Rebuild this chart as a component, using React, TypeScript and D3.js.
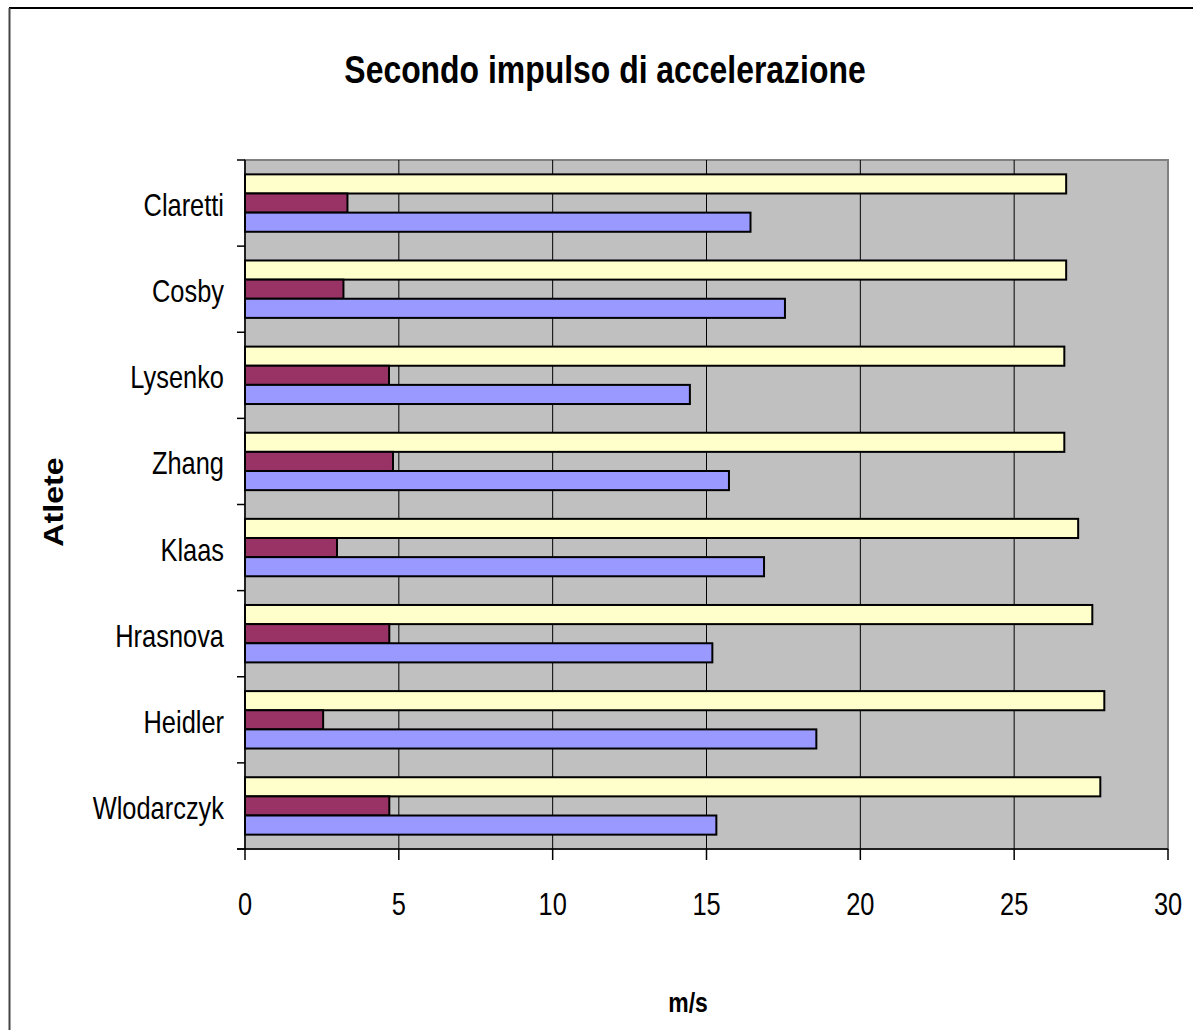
import React from "react";
import * as d3 from "d3";

const athletes = ["Claretti", "Cosby", "Lysenko", "Zhang", "Klaas", "Hrasnova", "Heidler", "Wlodarczyk"];
const seriesYellow = [26.69, 26.69, 26.63, 26.63, 27.08, 27.54, 27.93, 27.8];
const seriesPurple = [3.33, 3.2, 4.68, 4.81, 2.99, 4.69, 2.54, 4.69];
const seriesBlue = [16.43, 17.55, 14.46, 15.73, 16.87, 15.19, 18.57, 15.32];
const xTicks = [0, 5, 10, 15, 20, 25, 30];
const seriesKeys = ["yellow", "purple", "blue"];
const seriesColors = ["#FFFFCC", "#993366", "#9999FF"];
const seriesData = [seriesYellow, seriesPurple, seriesBlue];

const titleText = "Secondo impulso di accelerazione";
const xTitle = "m/s";
const yTitle = "Atlete";

function Narrow({ x, y, anchor, size, bold, sx = 0.82, children }: any) {
  return (
    <text
      transform={`translate(${x},${y}) scale(${sx},1)`}
      textAnchor={anchor}
      fontFamily="'Liberation Sans', Arial, sans-serif"
      fontWeight={bold ? "bold" : "normal"}
      fontSize={size}
    >
      {children}
    </text>
  );
}

export default function App() {
  const left = 245, right = 1168, top = 160, bottom = 849;
  const x = d3.scaleLinear().domain([0, 30]).range([left, right]);
  const y = d3.scaleBand().domain(athletes).range([top, bottom]).paddingInner(1.5 / 4.5).paddingOuter(0.75 / 4.5);
  const inner = d3.scaleBand().domain(seriesKeys).range([0, y.bandwidth()]);
  const bandStep = (bottom - top) / athletes.length;
  const sans = "'Liberation Sans', Arial, sans-serif";

  return (
    <svg width={1193} height={1030} style={{ position: "absolute", left: 0, top: 0, background: "#fff" }}>
      <line x1={9} y1={8} x2={1193} y2={8} stroke="#000" strokeWidth={2} />
      <line x1={9.5} y1={8} x2={9.5} y2={1030} stroke="#444" strokeWidth={2} />
      <Narrow x={605} y={83} anchor="middle" size={38} sx={0.84} bold>
        {titleText}
      </Narrow>
      <rect x={left} y={top} width={right - left} height={bottom - top} fill="#C0C0C0" stroke="#808080" strokeWidth={2} />
      {xTicks.slice(1, -1).map((t) => (
        <line key={"g" + t} x1={x(t)} x2={x(t)} y1={top} y2={bottom} stroke="#000" strokeWidth={1} />
      ))}
      {athletes.map((a, i) =>
        seriesData.map((s, k) => (
          <rect
            key={a + k}
            x={x(0)}
            y={(y(a) as number) + (inner(seriesKeys[k]) as number)}
            width={x(s[i]) - x(0)}
            height={inner.bandwidth()}
            fill={seriesColors[k]}
            stroke="#000"
            strokeWidth={2}
          />
        ))
      )}
      <line x1={left} x2={left} y1={top} y2={bottom} stroke="#000" strokeWidth={1.5} />
      <line x1={left - 8} x2={right} y1={bottom} y2={bottom} stroke="#000" strokeWidth={1.5} />
      {d3.range(athletes.length + 1).map((i) => (
        <line key={"yt" + i} x1={left - 8} x2={left} y1={top + i * bandStep} y2={top + i * bandStep} stroke="#000" strokeWidth={1.5} />
      ))}
      {xTicks.map((t) => (
        <g key={"xt" + t}>
          <line x1={x(t)} x2={x(t)} y1={bottom} y2={bottom + 11} stroke="#000" strokeWidth={1.5} />
          <Narrow x={x(t)} y={915} anchor="middle" size={31}>
            {t}
          </Narrow>
        </g>
      ))}
      {athletes.map((a) => (
        <Narrow key={"l" + a} x={224} y={(y(a) as number) + y.bandwidth() / 2 + 13} anchor="end" size={31}>
          {a}
        </Narrow>
      ))}
      <Narrow x={688} y={1012} anchor="middle" size={28} bold>
        {xTitle}
      </Narrow>
      <text transform="translate(63,502) rotate(-90) scale(1.15,1)" textAnchor="middle" fontFamily={sans} fontWeight="bold" fontSize={28}>
        {yTitle}
      </text>
    </svg>
  );
}
